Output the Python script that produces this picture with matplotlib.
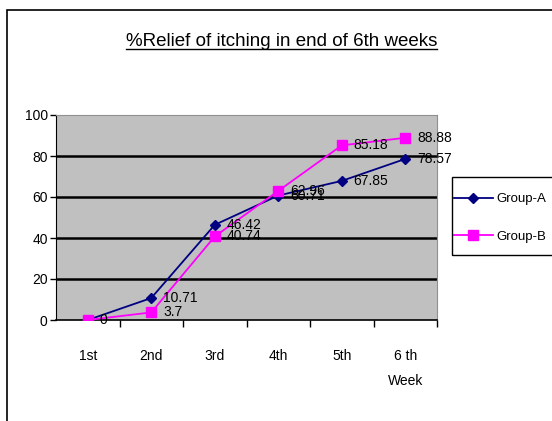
import matplotlib
matplotlib.use("Agg")
import matplotlib.pyplot as plt
from matplotlib.patches import Rectangle
from matplotlib.lines import Line2D

# --- data ---
weeks = ["1st", "2nd", "3rd", "4th", "5th", "6 th\nWeek"]
group_a = [0, 10.71, 46.42, 60.71, 67.85, 78.57]
group_b = [0, 3.7, 40.74, 62.96, 85.18, 88.88]
a_labels = ["0", "10.71", "46.42", "60.71", "67.85", "78.57"]
b_labels = ["", "3.7", "40.74", "62.96", "85.18", "88.88"]

plt.rcParams["font.family"] = ["Liberation Sans", "DejaVu Sans"]

fig = plt.figure(figsize=(5.52, 4.21), dpi=100)
ax = fig.add_axes([56 / 552, 1 - 320 / 421, 381 / 552, 205 / 421])

# outer chart frame (left and top edges visible)
fig.patches.append(Rectangle((7 / 552, -0.1), 1.1, 1 - 10 / 421 + 0.1,
                             transform=fig.transFigure, fill=False,
                             edgecolor="black", linewidth=1.2))

ax.set_facecolor("#C0C0C0")
x = list(range(len(weeks)))

for yv in [20, 40, 60, 80]:
    ax.axhline(yv, color="black", linewidth=1.8, zorder=1)

ax.plot(x, group_a, color="#000080", marker="D", markersize=5.5,
        linewidth=1.3, label="Group-A", zorder=3)
ax.plot(x, group_b, color="#FF00FF", marker="s", markersize=7,
        linewidth=1.3, label="Group-B", zorder=4)

for xi, yv, t in zip(x, group_a, a_labels):
    ax.annotate(t, (xi, yv), xytext=(8.5, 0), textcoords="offset points",
                ha="left", va="center", fontsize=10, color="black", zorder=5)
for xi, yv, t in zip(x, group_b, b_labels):
    ax.annotate(t, (xi, yv), xytext=(8.5, 0), textcoords="offset points",
                ha="left", va="center", fontsize=10, color="black", zorder=5)

ax.set_xlim(-0.5, len(weeks) - 0.5)
ax.set_ylim(0, 100)
ax.set_yticks([0, 20, 40, 60, 80, 100])
ax.tick_params(axis="y", length=4, width=1, labelsize=10, pad=2)

# category labels sit between the boundary ticks
ax.set_xticks([i + 0.5 for i in range(len(weeks))])
ax.set_xticklabels([])
ax.set_xticks(x, minor=True)
ax.set_xticklabels(weeks, minor=True, fontsize=10, va="top")
for lbl in ax.get_xticklabels(minor=True):
    lbl.set_linespacing(2.0)
ax.tick_params(axis="x", which="major", length=5, width=1)
ax.tick_params(axis="x", which="minor", length=0, pad=21)

ax.spines["left"].set_color("black")
ax.spines["bottom"].set_color("black")
ax.spines["bottom"].set_linewidth(1.2)
ax.spines["top"].set_color("#909090")
ax.spines["right"].set_color("#909090")

# legend box drawn separately so it can be taller than its entries
fig.patches.append(Rectangle((452 / 552, 1 - 255 / 421), 0.3, 78 / 421,
                             transform=fig.transFigure, fill=False,
                             edgecolor="black", linewidth=1))
ax.legend(loc="center left", bbox_to_anchor=(453 / 552, 1 - 218 / 421),
          bbox_transform=fig.transFigure, frameon=False, fontsize=9.5,
          handlelength=2.9, labelspacing=1.9, borderpad=0.1,
          handletextpad=0.3, borderaxespad=0)

# underlined title
title = fig.text(0.5 * (123 + 440) / 552, 1 - 41 / 421,
                 "%Relief of itching in end of 6th weeks",
                 ha="center", va="center", fontsize=13.5)
fig.canvas.draw()
bb = title.get_window_extent().transformed(fig.transFigure.inverted())
fig.add_artist(Line2D([bb.x0, bb.x1], [bb.y0 + 0.002, bb.y0 + 0.002],
                      transform=fig.transFigure, color="black", linewidth=1))

fig.savefig("out.png", dpi=100)
